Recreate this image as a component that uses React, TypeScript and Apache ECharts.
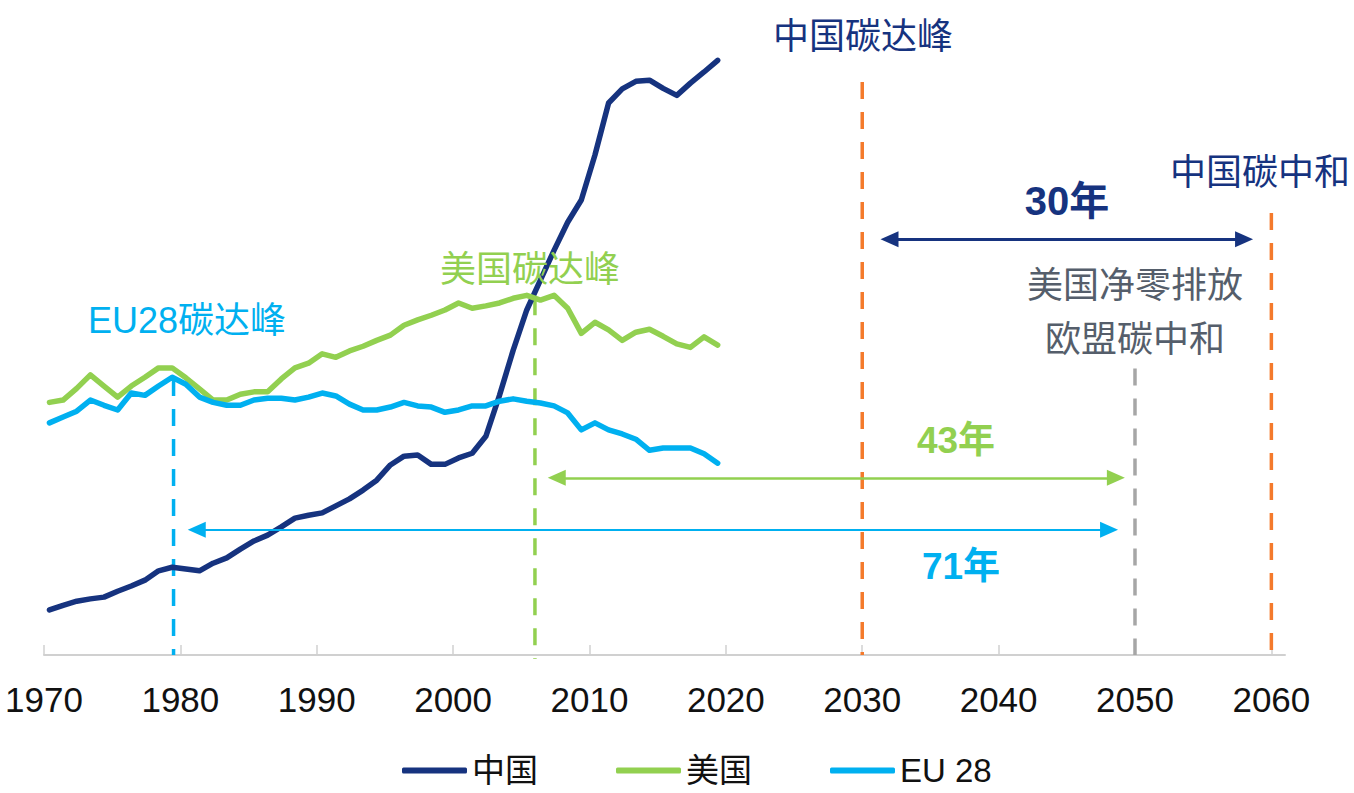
import React, { useEffect, useRef } from "react";
import * as echarts from "echarts";

// ---- data (CO2 emissions, Gt) ----
const years = [
  1970, 1971, 1972, 1973, 1974, 1975, 1976, 1977, 1978, 1979,
  1980, 1981, 1982, 1983, 1984, 1985, 1986, 1987, 1988, 1989,
  1990, 1991, 1992, 1993, 1994, 1995, 1996, 1997, 1998, 1999,
  2000, 2001, 2002, 2003, 2004, 2005, 2006, 2007, 2008, 2009,
  2010, 2011, 2012, 2013, 2014, 2015, 2016, 2017, 2018, 2019,
];
const china = [
  0.77, 0.85, 0.92, 0.96, 0.99, 1.09, 1.18, 1.28, 1.44, 1.5,
  1.47, 1.44, 1.57, 1.66, 1.81, 1.95, 2.05, 2.19, 2.34, 2.39,
  2.43, 2.55, 2.67, 2.82, 2.99, 3.25, 3.4, 3.42, 3.26, 3.26,
  3.37, 3.45, 3.74, 4.44, 5.21, 5.9, 6.41, 6.92, 7.4, 7.78,
  8.55, 9.44, 9.68, 9.81, 9.83, 9.69, 9.57, 9.78, 9.97, 10.17,
];
const usa = [
  4.32, 4.36, 4.56, 4.79, 4.6, 4.41, 4.6, 4.75, 4.91, 4.91,
  4.74, 4.55, 4.36, 4.36, 4.46, 4.5, 4.5, 4.72, 4.91, 4.99,
  5.15, 5.09, 5.2, 5.28, 5.38, 5.47, 5.64, 5.73, 5.81, 5.9,
  6.02, 5.93, 5.97, 6.02, 6.1, 6.15, 6.07, 6.15, 5.93, 5.5,
  5.69, 5.56, 5.38, 5.52, 5.57, 5.45, 5.32, 5.26, 5.44, 5.3,
];
const eu28 = [
  3.97, 4.07, 4.17, 4.36, 4.27, 4.19, 4.48, 4.44, 4.6, 4.75,
  4.63, 4.41, 4.32, 4.27, 4.27, 4.36, 4.39, 4.39, 4.36, 4.41,
  4.48, 4.43, 4.29, 4.19, 4.19, 4.24, 4.32, 4.26, 4.24, 4.15,
  4.19, 4.26, 4.26, 4.34, 4.38, 4.34, 4.31, 4.26, 4.14, 3.85,
  3.97, 3.85, 3.78, 3.69, 3.5, 3.54, 3.54, 3.54, 3.44, 3.28,
];
const xTicks = [1970, 1980, 1990, 2000, 2010, 2020, 2030, 2040, 2050, 2060];

// milestone years (vertical dashed lines): year, top and bottom of the line
const milestoneYears = [1979.5, 2006, 2030, 2050, 2060];
const milestoneTops = [4.72, 6.1, 9.8, 4.9, 7.56];
const milestoneBottoms = [0, -0.07, 0, 0, 0];

// spans (double arrows): from year, to year, level
const spanFrom = [2032, 2007.6, 1981.2];
const spanTo = [2058, 2048.6, 2048.1];
const spanLevel = [7.11, 3.03, 2.14];

const NAVY = "#16337f";
const GREEN = "#92d050";
const CYAN = "#00b0f0";
const ORANGE = "#f47a2c";
const GRAY = "#a6a6a6";
const LABEL_GRAY = "#555e6b";

const milestoneColors = [CYAN, GREEN, ORANGE, GRAY, ORANGE];
const spanColors = [NAVY, GREEN, CYAN];
const spanWidths = [3, 2.5, 2];

const CJK = "'Noto Sans CJK SC', sans-serif";
const NUMF = "'Liberation Sans', 'Noto Sans CJK SC', sans-serif";

export default function App() {
  const ref = useRef<HTMLDivElement>(null);

  useEffect(() => {
    document.body.style.margin = "0";
    if (!ref.current) return;
    const chart = echarts.init(ref.current, undefined, { renderer: "svg" });

    const pair = (arr: number[]) => years.map((y, i) => [y, arr[i]]);

    const milestoneSeries = milestoneYears.map((yr, i) => ({
      type: "line",
      xAxisIndex: 0,
      yAxisIndex: 0,
      data: [
        [yr, milestoneTops[i]],
        [yr, milestoneBottoms[i]],
      ],
      showSymbol: false,
      symbol: "none",
      clip: false,
      silent: true,
      z: 1,
      lineStyle: { color: milestoneColors[i], width: 3.5, type: [17, 13] },
    }));

    const spanSeries = spanFrom.map((f, i) => ({
      type: "line",
      xAxisIndex: 0,
      yAxisIndex: 0,
      data: [
        [f, spanLevel[i]],
        [spanTo[i], spanLevel[i]],
      ],
      showSymbol: false,
      symbol: "none",
      silent: true,
      clip: false,
      z: 2,
      lineStyle: { opacity: 0, width: 0 },
      markLine: {
        silent: true,
        animation: false,
        symbol: ["triangle", "triangle"],
        symbolSize: [16, 18],
        label: { show: false },
        lineStyle: { color: spanColors[i], width: spanWidths[i], type: "solid" },
        data: [
          [
            { coord: [f, spanLevel[i]] },
            { coord: [spanTo[i], spanLevel[i]] },
          ],
        ],
      },
    }));

    const dataLine = (name: string, arr: number[], color: string) => ({
      name,
      type: "line",
      xAxisIndex: 1,
      yAxisIndex: 0,
      data: pair(arr),
      showSymbol: false,
      symbol: "none",
      z: 3,
      color,
      lineStyle: { color, width: 5.5, cap: "round", join: "round" },
    });

    const txt = (
      text: string,
      x: number,
      y: number,
      fill: string,
      font: string
    ) => ({
      type: "text",
      x,
      y,
      silent: true,
      z: 10,
      style: {
        text,
        fill,
        font,
        align: "center",
        verticalAlign: "middle",
        textAlign: "center",
        textVerticalAlign: "middle",
      },
    });

    chart.setOption({
      animation: false,
      backgroundColor: "#ffffff",
      grid: { left: 44, right: 69, top: 41, bottom: 138, containLabel: false },
      xAxis: [
        {
          type: "value",
          min: 1970,
          max: 2061,
          interval: 10,
          splitLine: { show: false },
          axisLine: { show: true, lineStyle: { color: "#d0d0d0", width: 2 } },
          axisTick: {
            show: true,
            inside: true,
            length: 10,
            customValues: xTicks,
            lineStyle: { color: "#d0d0d0", width: 1.5 },
          },
          axisLabel: {
            show: true,
            customValues: xTicks,
            margin: 27,
            color: "#111111",
            fontSize: 35,
            fontFamily: "'Liberation Sans Narrow', 'Arial Narrow', 'Liberation Sans', sans-serif",
            formatter: (v: number) => String(v),
          },
        },
        {
          type: "value",
          min: 1969.6,
          max: 2060.6,
          show: false,
        },
      ],
      yAxis: [{ type: "value", min: 0, max: 10.5, show: false }],
      legend: {
        data: ["中国", "美国", "EU 28"],
        left: 397,
        top: 749,
        icon: "roundRect",
        itemWidth: 65,
        itemHeight: 6,
        itemGap: 78,
        textStyle: { fontSize: 33, color: "#111111", fontFamily: NUMF },
      },
      series: [
        ...milestoneSeries,
        ...spanSeries,
        dataLine("中国", china, NAVY),
        dataLine("美国", usa, GREEN),
        dataLine("EU 28", eu28, CYAN),
      ],
      graphic: [
        txt("中国碳达峰", 863, 33, NAVY, `36px ${CJK}`),
        txt("中国碳中和", 1260, 169, NAVY, `36px ${CJK}`),
        txt("30年", 1067, 201, NAVY, `bold 40px ${NUMF}`),
        txt("美国净零排放", 1135, 282, LABEL_GRAY, `36px ${CJK}`),
        txt("欧盟碳中和", 1135, 336, LABEL_GRAY, `36px ${CJK}`),
        txt("美国碳达峰", 530, 266, GREEN, `36px ${CJK}`),
        txt("EU28碳达峰", 187, 320, CYAN, `36px ${NUMF}`),
        txt("43年", 956, 440, GREEN, `bold 37px ${NUMF}`),
        txt("71年", 961, 566, CYAN, `bold 37px ${NUMF}`),
      ],
    });

    return () => chart.dispose();
  }, []);

  return <div ref={ref} style={{ width: 1354, height: 793 }} />;
}
